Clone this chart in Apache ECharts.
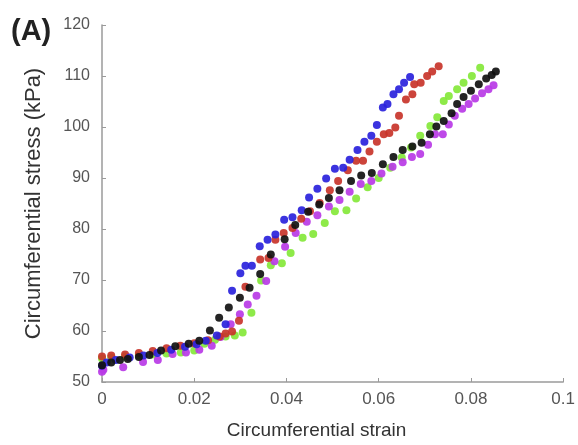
<!DOCTYPE html>
<html>
<head>
<meta charset="utf-8">
<script src="https://cdn.jsdelivr.net/npm/echarts@6/dist/echarts.min.js"></script>
<style>html,body{margin:0;padding:0;background:#fff;}#c{width:578px;height:445px;}</style>
</head>
<body>
<div id="c"></div>
<script>
const xTicks = [0, 0.02, 0.04, 0.06, 0.08, 0.1];
const yTicks = [50, 60, 70, 80, 90, 100, 110, 120];

const blueX = [0, 0.001, 0.003, 0.006, 0.009, 0.012, 0.015, 0.018, 0.0205, 0.0225, 0.0249, 0.0268, 0.0282, 0.030, 0.0311, 0.0325, 0.0342, 0.0359, 0.0376, 0.0395, 0.0413, 0.0433, 0.0449, 0.0467, 0.0486, 0.0505, 0.0523, 0.0537, 0.0554, 0.0569, 0.0584, 0.0596, 0.0609, 0.0619, 0.0632, 0.0644, 0.0655, 0.0668];
const blueY = [53.2, 53.8, 54.3, 54.8, 55.2, 55.7, 56.3, 56.9, 57.4, 58.1, 59.1, 61.3, 67.9, 71.3, 72.8, 72.8, 76.6, 77.9, 78.9, 81.8, 82.3, 83.7, 86.2, 87.9, 89.9, 91.8, 92.0, 93.6, 95.5, 97.1, 98.3, 100.4, 103.8, 104.5, 106.4, 107.4, 108.7, 109.8];

const redX = [0, 0.002, 0.005, 0.008, 0.011, 0.014, 0.017, 0.020, 0.023, 0.0255, 0.0268, 0.0282, 0.0297, 0.0311, 0.0343, 0.0361, 0.0376, 0.0394, 0.0413, 0.0432, 0.0451, 0.0472, 0.0494, 0.0512, 0.0533, 0.0551, 0.0566, 0.058, 0.0596, 0.0611, 0.0623, 0.0636, 0.0644, 0.0659, 0.0673, 0.0677, 0.0691, 0.0705, 0.0716, 0.073];
const redY = [55.0, 55.2, 55.4, 55.7, 56.1, 56.6, 57.1, 57.6, 58.2, 58.9, 59.5, 59.9, 62.0, 68.7, 74.0, 74.3, 77.9, 79.2, 80.2, 82.0, 83.5, 85.1, 87.6, 89.4, 91.5, 93.4, 93.4, 95.2, 97.1, 98.6, 98.8, 99.9, 102.2, 105.4, 106.4, 108.4, 108.7, 110.0, 110.9, 111.9];

const blackX = [0, 0.002, 0.0039, 0.0056, 0.008, 0.0103, 0.0128, 0.0159, 0.0188, 0.0211, 0.0234, 0.0254, 0.0275, 0.0299, 0.032, 0.0343, 0.0366, 0.0396, 0.0419, 0.0447, 0.0471, 0.0492, 0.0515, 0.054, 0.0562, 0.0585, 0.0609, 0.0632, 0.0652, 0.0673, 0.0693, 0.0711, 0.0725, 0.0741, 0.0758, 0.077, 0.0784, 0.08, 0.0817, 0.0833, 0.0845, 0.0854];
const blackY = [53.3, 53.8, 54.3, 54.5, 54.9, 55.3, 56.2, 57.0, 57.5, 58.1, 60.1, 62.6, 64.6, 66.5, 68.5, 71.2, 75.0, 78.0, 80.8, 83.4, 84.8, 86.1, 87.6, 89.4, 90.5, 91.0, 92.7, 94.1, 95.5, 96.2, 96.9, 98.6, 100.1, 101.2, 102.7, 104.5, 105.9, 107.1, 108.4, 109.5, 110.2, 110.9];

const greenX = [0, 0.002, 0.005, 0.008, 0.011, 0.014, 0.0171, 0.020, 0.0222, 0.0245, 0.0268, 0.0288, 0.0305, 0.0324, 0.0345, 0.0366, 0.039, 0.0409, 0.0435, 0.0458, 0.0483, 0.0505, 0.053, 0.0551, 0.0576, 0.060, 0.0625, 0.065, 0.067, 0.069, 0.0712, 0.0727, 0.0741, 0.0752, 0.077, 0.0784, 0.0802, 0.082];
const greenY = [54.6, 54.8, 55.0, 55.2, 55.4, 55.6, 55.8, 56.2, 57.5, 58.3, 58.9, 59.1, 59.7, 63.6, 69.9, 72.9, 73.3, 75.3, 78.3, 79.0, 81.2, 83.5, 83.7, 86.0, 88.2, 90.0, 92.0, 94.0, 96.0, 98.3, 100.2, 101.9, 105.1, 106.1, 107.4, 108.7, 110.0, 111.6];

const magentaX = [0, 0.0003, 0.0046, 0.0089, 0.0121, 0.0153, 0.0182, 0.0211, 0.0238, 0.0257, 0.0279, 0.0299, 0.0316, 0.0335, 0.0356, 0.0374, 0.0397, 0.042, 0.0444, 0.0467, 0.0492, 0.0515, 0.0537, 0.0561, 0.0584, 0.0606, 0.063, 0.0652, 0.0672, 0.069, 0.0707, 0.0722, 0.0739, 0.0752, 0.0765, 0.0781, 0.0795, 0.0809, 0.0824, 0.0838, 0.0849];
const magentaY = [52.0, 52.4, 52.9, 53.9, 54.3, 55.5, 55.8, 56.3, 57.1, 58.8, 61.3, 63.3, 65.2, 66.9, 69.8, 73.7, 76.5, 79.2, 81.4, 82.7, 84.4, 85.7, 87.3, 88.8, 89.4, 90.9, 92.2, 93.1, 94.1, 94.7, 96.5, 98.6, 98.6, 100.5, 102.2, 103.6, 104.5, 105.6, 106.6, 107.4, 108.2];

const zip = (xs, ys) => xs.map((x, i) => [x, ys[i]]);
const mk = (name, xs, ys, color) => ({
  name, type: 'scatter', data: zip(xs, ys), symbolSize: 8,
  itemStyle: { color: color, opacity: 0.92 }
});

const chart = echarts.init(document.getElementById('c'));
const font = "'Liberation Sans', Arial, sans-serif";
chart.setOption({
  animation: false,
  backgroundColor: '#fff',
  grid: { left: 102, right: 11, top: 25, bottom: 60 },
  xAxis: {
    type: 'value', min: xTicks[0], max: xTicks[xTicks.length - 1], interval: 0.02,
    name: 'Circumferential strain', nameLocation: 'middle', nameGap: 39,
    nameTextStyle: { color: '#333', fontSize: 19, fontFamily: font, padding: [0, 32, 0, 0] },
    axisLine: { lineStyle: { color: '#9a9a9a', width: 1.5 } },
    axisTick: { inside: true, length: 4, lineStyle: { color: '#9a9a9a' } },
    axisLabel: { color: '#555', fontSize: 17, fontFamily: font, margin: 9,
      formatter: v => String(+v.toFixed(2)) },
    splitLine: { show: false }
  },
  yAxis: {
    type: 'value', min: yTicks[0], max: yTicks[yTicks.length - 1], interval: 10,
    name: 'Circumferential stress (kPa)', nameLocation: 'middle', nameGap: 57,
    nameTextStyle: { color: '#333', fontSize: 22, fontFamily: font },
    axisLine: { show: true, lineStyle: { color: '#9a9a9a', width: 1.5 } },
    axisTick: { show: true, inside: true, length: 4, lineStyle: { color: '#9a9a9a' } },
    axisLabel: { color: '#555', fontSize: 16, fontFamily: font, margin: 12 },
    splitLine: { show: false }
  },
  graphic: [{
    type: 'text', left: 11, top: 17,
    style: { text: '(A)', font: "bold 29px 'Liberation Sans', Arial, sans-serif", fill: '#222' }
  }],
  series: [
    mk('green', greenX, greenY, '#84e83a'),
    mk('magenta', magentaX, magentaY, '#b83ae6'),
    mk('red', redX, redY, '#c8342a'),
    mk('blue', blueX, blueY, '#2a22dc'),
    mk('black', blackX, blackY, '#111111')
  ]
});
</script>
</body>
</html>
